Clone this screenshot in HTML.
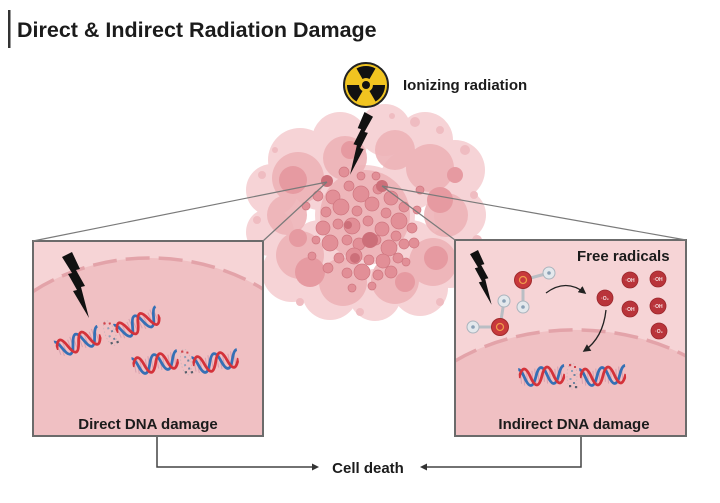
<!DOCTYPE html>
<html><head><meta charset="utf-8"><style>
html,body{margin:0;padding:0;background:#fff;width:720px;height:503px;overflow:hidden;}
svg{display:block;position:absolute;left:0;top:0;}
text{font-family:"Liberation Sans",Arial,sans-serif;font-weight:bold;}
</style></head><body>
<svg width="720" height="503" viewBox="0 0 720 503" xmlns="http://www.w3.org/2000/svg" overflow="hidden">
<defs>
  <clipPath id="dc"><rect x="0" y="-12" width="46" height="24"/></clipPath>
  <g id="dna">
    <g clip-path="url(#dc)">
      <g stroke-width="1.1" stroke="#d9a3b0">
        <line x1="2" y1="-6" x2="2" y2="6"/><line x1="5" y1="-8" x2="5" y2="8"/>
        <line x1="8" y1="-7" x2="8" y2="7"/><line x1="13.5" y1="-6" x2="13.5" y2="6"/>
        <line x1="16.5" y1="-8" x2="16.5" y2="8"/><line x1="19.5" y1="-7" x2="19.5" y2="7"/>
        <line x1="25" y1="-6" x2="25" y2="6"/><line x1="28" y1="-8" x2="28" y2="8"/>
        <line x1="31" y1="-7" x2="31" y2="7"/><line x1="36.5" y1="-6" x2="36.5" y2="6"/>
        <line x1="39.5" y1="-8" x2="39.5" y2="8"/><line x1="42.5" y1="-7" x2="42.5" y2="7"/>
      </g>
      <path d="M-6,0 Q-0.25,-17 5.5,0 T17,0 T28.5,0 T40,0 T51.5,0" fill="none" stroke="#3570b5" stroke-width="2.8"/>
      <path d="M0,0 Q5.75,-17 11.5,0 T23,0 T34.5,0 T46,0" fill="none" stroke="#d4323a" stroke-width="2.8"/>
    </g>
  </g>
  <g id="debris">
    <ellipse cx="0" cy="0" rx="5" ry="13" fill="none" stroke="#c9b6bb" stroke-width="0.8" stroke-dasharray="1.5 2"/>
    <rect x="-3" y="-12" width="2.2" height="2.2" fill="#d0454d"/>
    <rect x="2" y="-10" width="2" height="2" fill="#d0454d"/>
    <rect x="-1" y="-6" width="2" height="2" fill="#8fa0b8"/>
    <rect x="1.5" y="-2" width="2" height="2" fill="#6f84a0"/>
    <rect x="-2.5" y="2" width="2" height="2" fill="#8fa0b8"/>
    <rect x="1" y="6" width="2" height="2" fill="#6f84a0"/>
    <rect x="-3" y="9" width="2.2" height="2.2" fill="#555e6a"/>
    <rect x="3" y="10" width="2.2" height="2.2" fill="#555e6a"/>
  </g>
  <path id="bolt" d="M10,0 L18,17 L14,18 L23,34 L19,35 L27,66 L11,39 L15,38 L6,22 L10,21 L0,5 Z" fill="#111"/>
  <path id="blade" d="M-3.5,-6 L-9.5,-16.5 A19,19 0 0 1 9.5,-16.5 L3.5,-6 A7,7 0 0 0 -3.5,-6 Z" fill="#111"/>
  <marker id="ah" viewBox="0 0 10 10" refX="8" refY="5" markerWidth="6" markerHeight="6" orient="auto">
    <path d="M0,0 L10,5 L0,10 Z" fill="#222"/>
  </marker>
</defs>

<rect width="720" height="503" fill="#fff"/>

<!-- Title -->
<rect x="8" y="10" width="2.5" height="38" fill="#333"/>
<text x="17" y="37" font-size="21.5" fill="#1b1b1b">Direct &amp; Indirect Radiation Damage</text>

<!-- Tumor -->
<g fill="#f6d3d6">
  <circle cx="300" cy="160" r="32"/><circle cx="340" cy="140" r="28"/><circle cx="385" cy="130" r="26"/>
  <circle cx="425" cy="140" r="28"/><circle cx="455" cy="170" r="30"/><circle cx="460" cy="215" r="26"/>
  <circle cx="450" cy="258" r="30"/><circle cx="420" cy="288" r="28"/><circle cx="375" cy="295" r="26"/>
  <circle cx="330" cy="292" r="28"/><circle cx="292" cy="272" r="30"/><circle cx="270" cy="232" r="24"/>
  <circle cx="272" cy="190" r="26"/><circle cx="320" cy="180" r="30"/><circle cx="410" cy="180" r="30"/>
  <circle cx="410" cy="250" r="30"/><circle cx="320" cy="250" r="30"/><circle cx="365" cy="215" r="50"/>
</g>
<g fill="#eeb3b8" opacity="0.9">
  <circle cx="298" cy="178" r="26"/><circle cx="345" cy="158" r="22"/><circle cx="395" cy="150" r="20"/>
  <circle cx="430" cy="168" r="24"/><circle cx="446" cy="215" r="22"/><circle cx="433" cy="262" r="24"/>
  <circle cx="395" cy="280" r="24"/><circle cx="343" cy="282" r="24"/><circle cx="300" cy="255" r="24"/>
  <circle cx="287" cy="215" r="20"/><circle cx="365" cy="215" r="45"/>
</g>
<g fill="#e69aa1">
  <circle cx="293" cy="180" r="14"/><circle cx="440" cy="200" r="13"/><circle cx="310" cy="272" r="15"/>
  <circle cx="436" cy="258" r="12"/><circle cx="350" cy="150" r="9"/><circle cx="405" cy="282" r="10"/>
  <circle cx="298" cy="238" r="9"/><circle cx="455" cy="175" r="8"/>
</g>
<g fill="#e28f97" stroke="#cf7780" stroke-width="0.7">
  <circle cx="333" cy="197" r="7"/><circle cx="349" cy="186" r="5"/><circle cx="361" cy="194" r="8"/>
  <circle cx="378" cy="189" r="5"/><circle cx="391" cy="198" r="7"/><circle cx="404" cy="207" r="5"/>
  <circle cx="326" cy="212" r="5"/><circle cx="341" cy="207" r="8"/><circle cx="357" cy="211" r="5"/>
  <circle cx="372" cy="204" r="7"/><circle cx="386" cy="213" r="5"/><circle cx="399" cy="221" r="8"/>
  <circle cx="412" cy="228" r="5"/><circle cx="323" cy="228" r="7"/><circle cx="338" cy="224" r="5"/>
  <circle cx="352" cy="226" r="8"/><circle cx="368" cy="221" r="5"/><circle cx="382" cy="229" r="7"/>
  <circle cx="396" cy="236" r="5"/><circle cx="330" cy="243" r="8"/><circle cx="347" cy="240" r="5"/>
  <circle cx="359" cy="244" r="6"/><circle cx="376" cy="240" r="5"/><circle cx="389" cy="248" r="8"/>
  <circle cx="404" cy="244" r="5"/><circle cx="339" cy="258" r="5"/><circle cx="354" cy="256" r="8"/>
  <circle cx="369" cy="260" r="5"/><circle cx="383" cy="261" r="7"/><circle cx="398" cy="258" r="5"/>
  <circle cx="347" cy="273" r="5"/><circle cx="362" cy="272" r="8"/><circle cx="378" cy="275" r="5"/>
  <circle cx="391" cy="272" r="6"/><circle cx="316" cy="240" r="4"/><circle cx="414" cy="243" r="5"/>
  <circle cx="361" cy="176" r="4"/><circle cx="344" cy="172" r="5"/><circle cx="376" cy="176" r="4"/>
  <circle cx="318" cy="196" r="5"/><circle cx="417" cy="210" r="4"/><circle cx="328" cy="268" r="5"/>
  <circle cx="306" cy="206" r="4"/><circle cx="420" cy="190" r="4"/><circle cx="312" cy="256" r="4"/>
  <circle cx="406" cy="262" r="4"/><circle cx="372" cy="286" r="4"/><circle cx="352" cy="288" r="4"/>
</g>
<g fill="#cc6f79">
  <circle cx="327" cy="181" r="6"/><circle cx="382" cy="186" r="6"/><circle cx="370" cy="240" r="8"/>
  <circle cx="355" cy="258" r="5"/><circle cx="348" cy="225" r="4"/>
</g>
<g fill="#efbcc1">
  <circle cx="415" cy="122" r="5"/><circle cx="440" cy="130" r="4"/><circle cx="465" cy="150" r="5"/>
  <circle cx="474" cy="195" r="4"/><circle cx="477" cy="240" r="5"/><circle cx="470" cy="278" r="4"/>
  <circle cx="262" cy="175" r="4"/><circle cx="257" cy="220" r="4"/><circle cx="275" cy="150" r="3"/>
  <circle cx="300" cy="302" r="4"/><circle cx="440" cy="302" r="4"/><circle cx="360" cy="312" r="4"/>
  <circle cx="392" cy="116" r="3"/>
</g>

<!-- Radiation symbol -->
<circle cx="366" cy="85" r="22" fill="#f1c420" stroke="#222" stroke-width="2"/>
<g transform="translate(366,85)">
  <use href="#blade"/>
  <use href="#blade" transform="rotate(120)"/>
  <use href="#blade" transform="rotate(240)"/>
  <circle r="4" fill="#111"/>
</g>
<text x="403" y="90" font-size="15" fill="#1b1b1b">Ionizing radiation</text>
<use href="#bolt" transform="translate(373,112) scale(-0.85,0.95)"/>

<!-- Left box -->
<rect x="33" y="241" width="230" height="195" fill="#f6d4d6"/>
<path d="M33,291.5 A192,162 0 0 1 263,289 L263,436 L33,436 Z" fill="#f0c0c3"/>
<path d="M33,291.5 A192,162 0 0 1 263,289" fill="none" stroke="#e3a3a9" stroke-width="3.5" stroke-dasharray="24 9"/>
<rect x="33" y="241" width="230" height="195" fill="none" stroke="#6b6b6b" stroke-width="2"/>
<use href="#bolt" transform="translate(62,252)"/>
<use href="#dna" transform="translate(57,350) rotate(-20)"/>
<use href="#debris" transform="translate(110,333) rotate(-20)"/>
<use href="#dna" transform="translate(117,333) rotate(-24)"/>
<use href="#dna" transform="translate(133,367) rotate(-10)"/>
<use href="#debris" transform="translate(186,362) rotate(-10)"/>
<use href="#dna" transform="translate(193,366) rotate(-10)"/>
<text x="148" y="429" font-size="15" text-anchor="middle" fill="#1b1b1b">Direct DNA damage</text>

<!-- Right box -->
<rect x="455" y="240" width="231" height="196" fill="#f6d4d6"/>
<path d="M455,361 A192,142 0 0 1 686,356 L686,436 L455,436 Z" fill="#f0c0c3"/>
<path d="M455,361 A192,142 0 0 1 686,356" fill="none" stroke="#e3a3a9" stroke-width="3.5" stroke-dasharray="24 9"/>
<rect x="455" y="240" width="231" height="196" fill="none" stroke="#6b6b6b" stroke-width="2"/>
<use href="#bolt" transform="translate(470,250) scale(0.8,0.83)"/>
<!-- water molecules -->
<g stroke="#b9bec4" stroke-width="3">
  <line x1="523" y1="280" x2="549" y2="273"/><line x1="523" y1="280" x2="523" y2="307"/>
  <line x1="500" y1="327" x2="504" y2="301"/><line x1="500" y1="327" x2="473" y2="327"/>
</g>
<g fill="#e4e8ec" stroke="#aab4bd" stroke-width="1">
  <circle cx="549" cy="273" r="6"/><circle cx="523" cy="307" r="6"/>
  <circle cx="504" cy="301" r="6"/><circle cx="473" cy="327" r="6"/>
</g>
<g fill="#8aa0b5">
  <circle cx="549" cy="273" r="1.8"/><circle cx="523" cy="307" r="1.8"/>
  <circle cx="504" cy="301" r="1.8"/><circle cx="473" cy="327" r="1.8"/>
</g>
<g fill="#c8393c" stroke="#a02a2c" stroke-width="1">
  <circle cx="523" cy="280" r="8.5"/><circle cx="500" cy="327" r="8.5"/>
</g>
<g fill="none" stroke="#ef9a4a" stroke-width="1.3">
  <circle cx="523" cy="280" r="3.5"/><circle cx="500" cy="327" r="3.5"/>
</g>
<path d="M546,293 Q566,278 585,293" fill="none" stroke="#222" stroke-width="1.3" marker-end="url(#ah)"/>
<path d="M606,310 Q603,338 584,351" fill="none" stroke="#222" stroke-width="1.3" marker-end="url(#ah)"/>
<text x="577" y="261" font-size="15" fill="#1b1b1b">Free radicals</text>
<g fill="#b9343a" stroke="#9a272c" stroke-width="0.8">
  <circle cx="605" cy="298" r="8"/><circle cx="630" cy="280" r="8"/><circle cx="658" cy="279" r="8"/>
  <circle cx="630" cy="309" r="8"/><circle cx="658" cy="306" r="8"/><circle cx="659" cy="331" r="8"/>
</g>
<g font-size="5" fill="#f6e0e0" text-anchor="middle">
  <text x="605" y="300">·O₂</text><text x="630" y="282">·OH</text><text x="658" y="281">·OH</text>
  <text x="630" y="311">·OH</text><text x="658" y="308">·OH</text><text x="659" y="333">·O₂</text>
</g>
<use href="#dna" transform="translate(519,378) rotate(-5)"/>
<use href="#debris" transform="translate(572,376)"/>
<use href="#dna" transform="translate(580,378) rotate(-5)"/>
<text x="574" y="429" font-size="15" text-anchor="middle" fill="#1b1b1b">Indirect DNA damage</text>

<!-- Zoom lines -->
<g stroke="#7a7a7a" stroke-width="1.2" fill="none">
  <line x1="33" y1="241" x2="327" y2="182"/>
  <line x1="263" y1="241" x2="327" y2="182"/>
  <line x1="455" y1="240" x2="382" y2="186"/>
  <line x1="686" y1="240" x2="382" y2="186"/>
</g>

<!-- Cell death connectors -->
<g stroke="#444" stroke-width="1.5" fill="none">
  <polyline points="157,437 157,467 313,467"/>
  <polyline points="581,437 581,467 426,467"/>
</g>
<path d="M312,463.5 L319,467 L312,470.5 Z" fill="#333"/>
<path d="M427,463.5 L420,467 L427,470.5 Z" fill="#333"/>
<text x="368" y="473" font-size="15" text-anchor="middle" fill="#1b1b1b">Cell death</text>
</svg>
</body></html>
